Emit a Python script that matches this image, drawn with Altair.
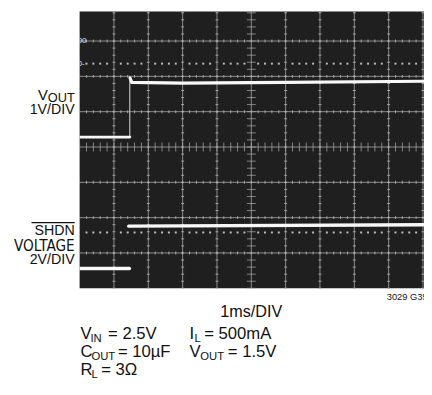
import altair as alt
import pandas as pd

# ---------------- data (in scope divisions) ----------------
vout_low_x = [0.0, 1.46]
vout_low_y = [4.28, 4.28]
vout_edge_x = [1.46, 1.46]
vout_edge_y = [4.28, 6.0]
vout_high_x = [1.47, 1.52, 3.0, 6.0, 10.03]
vout_high_y = [5.95, 5.83, 5.81, 5.83, 5.86]
shdn_low_x = [0.0, 1.45]
shdn_low_y = [0.56, 0.56]
shdn_high_x = [1.43, 10.03]
shdn_high_y = [1.76, 1.80]
ref_levels = [6.36, 1.58]
grid_x = [1, 2, 3, 4, 5, 6, 7, 8, 9, 10]
grid_y = [1, 2, 3, 4, 5, 6, 7]

XMAX = 10.03
YMAX = 7.833
W, H = 351, 282
OX, OY = 81, 8
FONT = "Liberation Sans, Arial, sans-serif"
NARROW = "Liberation Sans Narrow, Arial Narrow, DejaVu Sans Condensed, sans-serif"
BG = "#1f1f1f"
GRID = "#b0b0b0"
TRACE = "#f8f8f8"

xs = alt.Scale(domain=[0, XMAX], nice=False, zero=False)
ys = alt.Scale(domain=[0, YMAX], nice=False, zero=False)

def X(f="x"):
    return alt.X(f"{f}:Q", scale=xs, axis=None)

def Y(f="y"):
    return alt.Y(f"{f}:Q", scale=ys, axis=None)

layers = []

# grid lines
vg = pd.DataFrame({"x": grid_x})
layers.append(alt.Chart(vg).mark_rule(color=GRID, strokeWidth=1, opacity=0.75).encode(x=X()))
hg = pd.DataFrame({"y": grid_y})
layers.append(alt.Chart(hg).mark_rule(color=GRID, strokeWidth=1, opacity=0.75).encode(y=Y()))

# minor tick marks on grid lines
steps_y = [round(i * 0.2, 2) for i in range(0, 40)]
steps_x = [round(i * 0.2, 2) for i in range(0, 51)]
vt = pd.DataFrame([{"x": gx, "y": s} for gx in grid_x if gx != 5 for s in steps_y])
layers.append(alt.Chart(vt).mark_tick(orient="horizontal", size=3, thickness=1, color=GRID, opacity=0.9).encode(x=X(), y=Y()))
ht = pd.DataFrame([{"x": s, "y": gy} for gy in grid_y if gy != 4 for s in steps_x])
layers.append(alt.Chart(ht).mark_tick(orient="vertical", size=3, thickness=1, color=GRID, opacity=0.9).encode(x=X(), y=Y()))
# centre cross with longer ticks
ct1 = pd.DataFrame({"x": [5] * len(steps_y), "y": steps_y})
layers.append(alt.Chart(ct1).mark_tick(orient="horizontal", size=9, thickness=1, color=GRID).encode(x=X(), y=Y()))
ct2 = pd.DataFrame({"x": steps_x, "y": [4] * len(steps_x)})
layers.append(alt.Chart(ct2).mark_tick(orient="vertical", size=9, thickness=1, color=GRID).encode(x=X(), y=Y()))

# dotted reference levels
dots = pd.DataFrame([{"x": k + f, "y": lv} for lv in ref_levels for k in range(0, 10) for f in (0.2, 0.4, 0.6, 0.8)])
layers.append(alt.Chart(dots).mark_square(size=4, color="#d0d0d0", opacity=0.9).encode(x=X(), y=Y()))

# scope marker glyphs at left edge
mk = pd.DataFrame({"x": [0, 0], "y": [7.0, 6.36], "t": ["00", "0-"]})
layers.append(alt.Chart(mk).mark_text(align="left", baseline="middle", dx=-2, fontSize=8, font=FONT, color="#e0e0e0", clip=True).encode(x=X(), y=Y(), text="t:N"))

# traces
def trace(xv, yv, width, color=TRACE, op=1.0):
    df = pd.DataFrame({"x": xv, "y": yv})
    return alt.Chart(df).mark_line(color=color, strokeWidth=width, strokeCap="round", opacity=op, clip=True).encode(x=X(), y=Y())

layers.append(trace(vout_edge_x, vout_edge_y, 1.2, "#bdbdbd"))
layers.append(trace(vout_low_x, vout_low_y, 3))
layers.append(trace(vout_high_x, vout_high_y, 3.2))
layers.append(trace(shdn_low_x, shdn_low_y, 3.5))
layers.append(trace(shdn_high_x, shdn_high_y, 3.5))

# ---------------- text ----------------
def txt(s, ax, ay, size, align="left", font=FONT, color="#111111"):
    return alt.Chart(pd.DataFrame({"t": [s]})).mark_text(
        align=align, baseline="alphabetic", fontSize=size, font=font, color=color
    ).encode(x=alt.value(ax - OX), y=alt.value(ay - OY), text="t:N")

SUB = 11.5
R1, R2, R3 = 342, 360, 378
texts = [
    txt("V", 48.5, 98, 15, align="right"),
    txt("OUT", 76, 100.5, 13, align="right"),
    txt("1V/DIV", 76, 112, 14.5, align="right"),
    txt("SHDN", 76, 236, 14.5, align="right"),
    txt("VOLTAGE", 76, 251.5, 15.5, align="right", font=NARROW),
    txt("2V/DIV", 76, 265.5, 14.5, align="right"),
    txt("1ms/DIV", 256, 319, 16.5, align="center"),
    txt("3029 G35", 394, 302, 9.5),
    txt("V", 82, R1, 17), txt("IN", 92, R1 + 3, SUB), txt("= 2.5V", 110, R1, 17),
    txt("C", 82, R2, 17), txt("OUT", 93, R2 + 3, SUB), txt("= 10µF", 120, R2, 17),
    txt("R", 82, R3, 17), txt("L", 93, R3 + 3, SUB), txt("= 3Ω", 103, R3, 17),
    txt("I", 193, R1, 17), txt("L", 198, R1 + 3, SUB), txt("= 500mA", 208, R1, 17),
    txt("V", 193, R2, 17), txt("OUT", 204, R2 + 3, SUB), txt("= 1.5V", 232, R2, 17),
]
layers += texts

# SHDN overline
layers.append(
    alt.Chart(pd.DataFrame({"a": [0]})).mark_rule(color="#111111", strokeWidth=1.2).encode(
        x=alt.value(32 - OX), x2=alt.value(76 - OX), y=alt.value(223 - OY)
    )
)

TOTAL_H = 383
chart = alt.layer(*layers).properties(
    width=W, height=H,
    autosize=alt.AutoSizeParams(type="none"),
    padding={"left": OX - 8, "top": OY - 8, "right": 0, "bottom": TOTAL_H - H - (OY - 8)},
).configure(background="white").configure_view(fill=BG, stroke=None)

chart.save("out.html", embed_options={"renderer": "svg", "actions": False})
